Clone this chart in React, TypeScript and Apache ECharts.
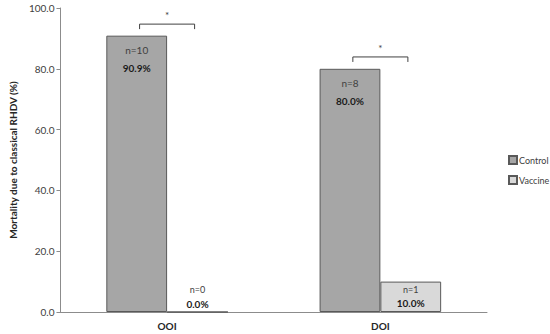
import React, { useEffect, useRef } from "react";
import * as echarts from "echarts";

const categories = ["OOI", "DOI"];
const controlValues = [90.9, 80.0];
const controlN = [10, 8];
const vaccineValues = [0.0, 10.0];
const vaccineN = [0, 1];
const brackets: [number, number][] = [
  [0, 94.7],
  [1, 83.9],
];
const yTicks = { min: 0, max: 100, interval: 20 };

const FONT = "Lato";

export default function App() {
  const ref = useRef<HTMLDivElement>(null);
  useEffect(() => {
    if (!ref.current) return;
    const chart = echarts.init(ref.current, null, { renderer: "svg" });
    const labelFor = (nArr: number[]) => (p: any) =>
      `{n|n=${nArr[p.dataIndex]}}\n{p|${Number(p.value).toFixed(1)}%}`;
    chart.setOption({
      animation: false,
      textStyle: { fontFamily: FONT },
      grid: { left: 52, right: 63, top: 8, bottom: 22, containLabel: false },
      legend: {
        data: ["Control", "Vaccine"],
        orient: "vertical",
        left: 503,
        top: 150,
        itemWidth: 8,
        itemHeight: 8,
        itemGap: 10,
        icon: "rect",
        textStyle: { fontSize: 9, color: "#404040", fontFamily: FONT, padding: [0, 0, 0, -3] },
      },
      xAxis: {
        type: "category",
        data: categories,
        axisLine: { lineStyle: { color: "#8c8c8c", width: 1 } },
        axisTick: { show: false },
        axisLabel: { fontSize: 10, fontWeight: "bold", color: "#262626", margin: 9, fontFamily: FONT },
      },
      yAxis: {
        type: "value",
        min: yTicks.min,
        max: yTicks.max,
        interval: yTicks.interval,
        name: "Mortality due to classical RHDV (%)",
        nameLocation: "middle",
        nameGap: 37,
        nameTextStyle: { fontSize: 10, fontWeight: "bold", color: "#262626", fontFamily: FONT },
        axisLine: { show: true, lineStyle: { color: "#8c8c8c", width: 1 } },
        axisTick: { show: true, length: 4, lineStyle: { color: "#8c8c8c" } },
        splitLine: { show: false },
        axisLabel: {
          fontSize: 10,
          color: "#404040",
          margin: 6,
          fontFamily: FONT,
          formatter: (v: number) => v.toFixed(1),
        },
      },
      series: [
        {
          name: "Control",
          type: "bar",
          data: controlValues,
          barCategoryGap: "43%",
          barGap: "0%",
          itemStyle: { color: "#a6a6a6", borderColor: "#595959", borderWidth: 1 },
          label: {
            show: true,
            position: "insideTop",
            distance: 5,
            formatter: labelFor(controlN),
            rich: {
              n: { fontSize: 10, color: "#404040", lineHeight: 18, fontFamily: FONT },
              p: { fontSize: 10, fontWeight: "bold", color: "#1a1a1a", lineHeight: 18, fontFamily: FONT },
            },
          },
        },
        {
          name: "Vaccine",
          type: "bar",
          data: vaccineValues,
          barCategoryGap: "43%",
          barGap: "0%",
          itemStyle: { color: "#d9d9d9", borderColor: "#595959", borderWidth: 1 },
          label: {
            show: true,
            position: "insideBottom",
            distance: 2,
            formatter: labelFor(vaccineN),
            rich: {
              n: { fontSize: 9, color: "#404040", lineHeight: 14, fontFamily: FONT },
              p: { fontSize: 10, fontWeight: "bold", color: "#1a1a1a", lineHeight: 14, fontFamily: FONT },
            },
          },
        },
        {
          name: "Significance",
          type: "custom",
          data: brackets,
          silent: true,
          z: 5,
          renderItem: (params: any, api: any) => {
            const c = api.coord([api.value(0), api.value(1)]);
            const w = api.size([1, 0])[0];
            const half = w * 0.129;
            return {
              type: "group",
              children: [
                {
                  type: "polyline",
                  shape: {
                    points: [
                      [c[0] - half, c[1] + 5],
                      [c[0] - half, c[1]],
                      [c[0] + half, c[1]],
                      [c[0] + half, c[1] + 5],
                    ],
                  },
                  style: { stroke: "#404040", lineWidth: 1, fill: null },
                },
                {
                  type: "text",
                  x: c[0],
                  y: c[1] - 4,
                  style: {
                    text: "*",
                    fontSize: 10,
                    fill: "#404040",
                    fontFamily: FONT,
                    align: "center",
                    verticalAlign: "bottom",
                  },
                },
              ],
            };
          },
        },
      ],
    });
    return () => chart.dispose();
  }, []);
  return (
    <div
      ref={ref}
      style={{ position: "fixed", left: 0, top: 0, width: 550, height: 334, background: "#fff" }}
    />
  );
}
